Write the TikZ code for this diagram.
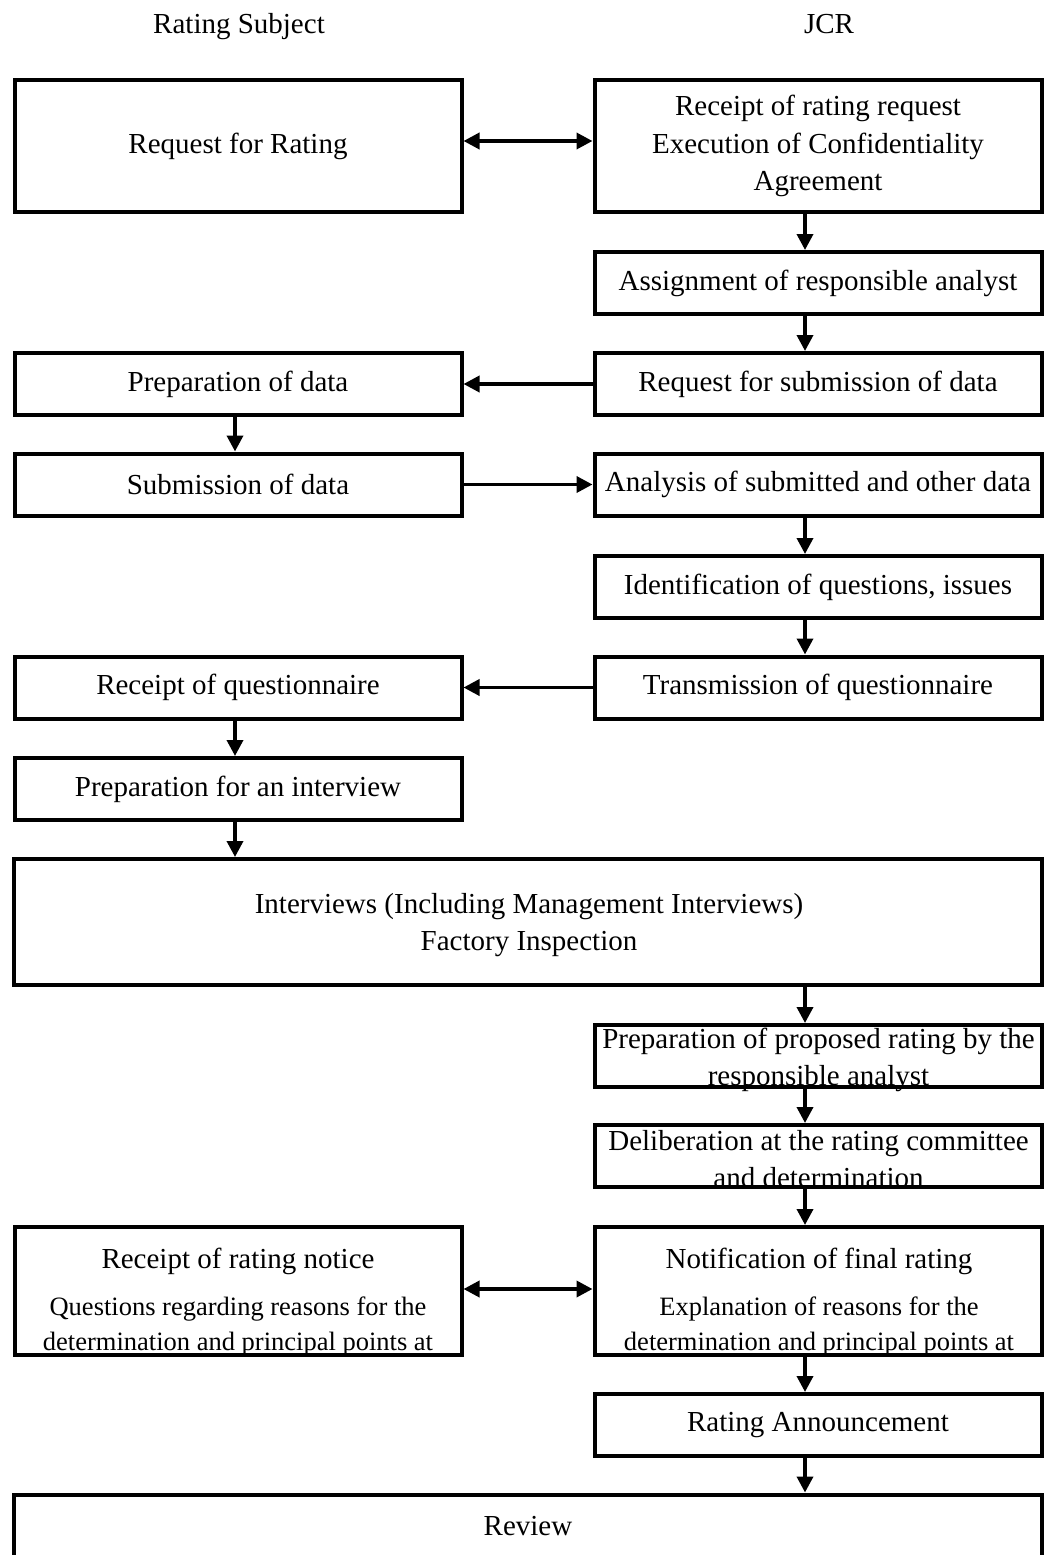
\documentclass[tikz,border=0pt]{standalone}
\usepackage{fontspec}
\setmainfont{Liberation Serif}
\usetikzlibrary{arrows.meta}
\newcommand\bigtxt{\fontsize{29}{37.5}\selectfont}
\newcommand\smalltxt{\fontsize{26.5}{33}\selectfont}
\begin{document}
\begin{tikzpicture}[x=1pt,y=-1pt,
  box/.style={draw, line width=4pt, inner sep=0pt, minimum width=447pt, minimum height=62pt, font=\bigtxt, align=center},
  wide/.style={box, minimum width=1028pt},
  txt/.style={inner sep=0pt, anchor=base, font=\bigtxt},
  stxt/.style={inner sep=0pt, anchor=base, font=\smalltxt},
  arr/.style={line width=3.6pt, -{Triangle[length=16pt,width=16pt]}},
  darr/.style={line width=3.6pt, {Triangle[length=16pt,width=16pt]}-{Triangle[length=16pt,width=16pt]}}]
\useasboundingbox (0,0) rectangle (1045,1555);
\fill[white] (0,0) rectangle (1045,1555);
\begin{scope}
\clip (0,0) rectangle (1045,1555);
% headers
\node[txt] (hL) at (239,34) {Rating Subject};
\node[txt] (hR) at (829,34) {JCR};
% columns
\coordinate (colL) at (235,0);
\coordinate (colR) at (805,0);
% boxes
\node[box, minimum height=132pt] (req) at (238,146) {Request for Rating};
\node[box, minimum height=132pt] (rec) at (818,146) {Receipt of rating request\\Execution of Confidentiality\\Agreement};
\node[box] (assign) at (818,283) {Assignment of responsible analyst};
\node[box] (reqsub) at (818,384) {Request for submission of data};
\node[box] (prepdata) at (238,384) {Preparation of data};
\node[box] (subdata) at (238,484.5) {Submission of data};
\node[box] (analysis) at (818,484.5) {Analysis of submitted and other data};
\node[box] (ident) at (818,587) {Identification of questions, issues};
\node[box] (trans) at (818,687.5) {Transmission of questionnaire};
\node[box] (recq) at (238,687.5) {Receipt of questionnaire};
\node[box] (prepint) at (238,789) {Preparation for an interview};
\node[wide, minimum height=126pt] (interv) at (527.5,922) {};
\node[txt] (intervA) at (529,913) {Interviews (Including Management Interviews)};
\node[txt] (intervB) at (529,950) {Factory Inspection};
\node[box] (prop) at (818,1056) {};
\node[txt] (propA) at (818.5,1048) {Preparation of proposed rating by the};
\node[txt] (propB) at (818.5,1085) {responsible analyst};
\node[box] (delib) at (818,1156) {};
\node[txt] (delibA) at (818.5,1150) {Deliberation at the rating committee};
\node[txt] (delibB) at (818.5,1187) {and determination};
\node[box, minimum height=128pt] (notif) at (818,1291) {};
\node[txt] (notifA) at (819,1268) {Notification of final rating};
\node[stxt] (notifB) at (819,1315) {Explanation of reasons for the};
\node[stxt] (notifC) at (819,1350) {determination and principal points at};
\node[box, minimum height=128pt] (recnot) at (238,1291) {};
\node[txt] (recnotA) at (238,1268) {Receipt of rating notice};
\node[stxt] (recnotB) at (238,1315) {Questions regarding reasons for the};
\node[stxt] (recnotC) at (238,1350) {determination and principal points at};
\node[box] (ann) at (818,1425) {Rating Announcement};
\node[wide, minimum height=105pt] (review) at (527.5,1547) {};
\node[txt] (reviewA) at (528,1535) {Review};
% connectors
\draw[darr] ([yshift=5pt]req.east) -- ([yshift=5pt]rec.west);
\draw[arr] (rec.south -| colR) -- (assign.north -| colR);
\draw[arr] (assign.south -| colR) -- (reqsub.north -| colR);
\draw[arr] (reqsub.west) -- (prepdata.east);
\draw[arr] (prepdata.south -| colL) -- (subdata.north -| colL);
\draw[arr] (subdata.east) -- (analysis.west);
\draw[arr] (analysis.south -| colR) -- (ident.north -| colR);
\draw[arr] (ident.south -| colR) -- (trans.north -| colR);
\draw[arr] (trans.west) -- (recq.east);
\draw[arr] (recq.south -| colL) -- (prepint.north -| colL);
\draw[arr] (prepint.south -| colL) -- (interv.north -| colL);
\draw[arr] (interv.south -| colR) -- (prop.north -| colR);
\draw[arr] (prop.south -| colR) -- (delib.north -| colR);
\draw[arr] (delib.south -| colR) -- (notif.north -| colR);
\draw[darr] ([yshift=2pt]recnot.east) -- ([yshift=2pt]notif.west);
\draw[arr] (notif.south -| colR) -- (ann.north -| colR);
\draw[arr] (ann.south -| colR) -- (review.north -| colR);
\end{scope}
\end{tikzpicture}
\end{document}
